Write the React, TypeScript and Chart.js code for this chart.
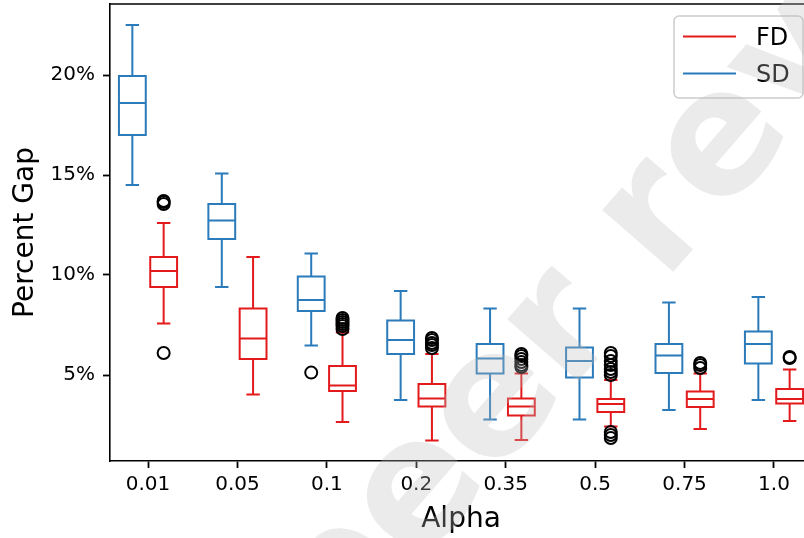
import React, { useEffect, useRef } from 'react';
import { Chart, registerables } from 'chart.js';

Chart.register(...registerables);

// Alpha values on the x axis
const categories = ['0.01', '0.05', '0.1', '0.2', '0.35', '0.5', '0.75', '1.0'];
const yTickValues = [5, 10, 15, 20];

// SD series (percent gap): whisker low, Q1, median, Q3, whisker high
const sdLow = [14.5, 9.4, 6.47, 3.75, 2.78, 2.77, 3.25, 3.75];
const sdQ1 = [17.0, 11.8, 8.2, 6.05, 5.07, 4.87, 5.1, 5.57];
const sdMedian = [18.6, 12.73, 8.75, 6.75, 5.82, 5.7, 5.98, 6.55];
const sdQ3 = [19.95, 13.55, 9.92, 7.72, 6.55, 6.38, 6.55, 7.17];
const sdHigh = [22.5, 15.07, 11.08, 9.2, 8.32, 8.33, 8.62, 8.9];
const sdOutliers: number[][] = [[], [], [5.12], [], [], [], [], []];

// FD series (percent gap)
const fdLow = [7.57, 4.03, 2.65, 1.73, 1.75, 2.42, 2.3, 2.7];
const fdQ1 = [9.4, 5.8, 4.2, 3.42, 2.97, 3.15, 3.4, 3.57];
const fdMedian = [10.2, 6.83, 4.47, 3.83, 3.42, 3.55, 3.8, 3.8];
const fdQ3 = [10.9, 8.33, 5.45, 4.55, 3.82, 3.8, 4.17, 4.3];
const fdHigh = [12.6, 10.9, 7.13, 6.05, 5.08, 4.75, 5.07, 5.28];
const fdOutliers: number[][] = [
  [13.55, 13.65, 13.7, 6.1],
  [],
  [7.3, 7.45, 7.55, 7.65, 7.75, 7.85],
  [6.35, 6.5, 6.6, 6.75, 6.85],
  [5.4, 5.5, 5.65, 5.8, 5.95, 6.05],
  [5.0, 5.15, 5.3, 5.5, 5.7, 5.95, 6.1, 2.15, 2.0, 1.85],
  [5.35, 5.5, 5.6],
  [5.85, 5.9],
];

const FD_COLOR = '#e31a1c';
const SD_COLOR = '#2b7bba';
const FONT = "'DejaVu Sans', sans-serif";

const SD_OFFSET = -0.175;
const FD_OFFSET = 0.175;
const BOX_HALF = 0.15;
const CAP_HALF = 0.075;

function outlierPoints(list: number[][], offset: number) {
  const pts: { x: number; y: number }[] = [];
  list.forEach((vals, i) => vals.forEach((v) => pts.push({ x: i + 1 + offset, y: v })));
  return pts;
}

export default function App() {
  const ref = useRef<HTMLCanvasElement>(null);

  useEffect(() => {
    const canvas = ref.current;
    if (!canvas) return;

    const boxPlugin = {
      id: 'boxes',
      beforeDatasetsDraw(chart: any) {
        const { ctx } = chart;
        const xs = chart.scales.x;
        const ys = chart.scales.y;
        const group = (
          offset: number,
          color: string,
          lo: number[],
          q1: number[],
          med: number[],
          q3: number[],
          hi: number[]
        ) => {
          ctx.save();
          ctx.strokeStyle = color;
          ctx.lineWidth = 2;
          ctx.lineCap = 'butt';
          for (let i = 0; i < categories.length; i++) {
            const c = i + 1 + offset;
            const cx = xs.getPixelForValue(c);
            const l = xs.getPixelForValue(c - BOX_HALF);
            const r = xs.getPixelForValue(c + BOX_HALF);
            const cl = xs.getPixelForValue(c - CAP_HALF);
            const cr = xs.getPixelForValue(c + CAP_HALF);
            const pLo = ys.getPixelForValue(lo[i]);
            const pQ1 = ys.getPixelForValue(q1[i]);
            const pMed = ys.getPixelForValue(med[i]);
            const pQ3 = ys.getPixelForValue(q3[i]);
            const pHi = ys.getPixelForValue(hi[i]);
            ctx.beginPath();
            ctx.rect(l, pQ3, r - l, pQ1 - pQ3);
            ctx.moveTo(l, pMed);
            ctx.lineTo(r, pMed);
            ctx.moveTo(cx, pQ1);
            ctx.lineTo(cx, pLo);
            ctx.moveTo(cx, pQ3);
            ctx.lineTo(cx, pHi);
            ctx.moveTo(cl, pLo);
            ctx.lineTo(cr, pLo);
            ctx.moveTo(cl, pHi);
            ctx.lineTo(cr, pHi);
            ctx.stroke();
          }
          ctx.restore();
        };
        group(SD_OFFSET, SD_COLOR, sdLow, sdQ1, sdMedian, sdQ3, sdHigh);
        group(FD_OFFSET, FD_COLOR, fdLow, fdQ1, fdMedian, fdQ3, fdHigh);
      },
    };

    const decorPlugin = {
      id: 'decor',
      afterDraw(chart: any) {
        const { ctx, chartArea } = chart;
        ctx.save();
        // top and right spines
        ctx.strokeStyle = '#000';
        ctx.lineWidth = 1.6;
        ctx.beginPath();
        ctx.moveTo(chartArea.left - 0.8, chartArea.top);
        ctx.lineTo(chartArea.right + 0.8, chartArea.top);
        ctx.lineTo(chartArea.right, chartArea.bottom);
        ctx.stroke();

        // axis titles
        ctx.fillStyle = '#000';
        ctx.font = `28px ${FONT}`;
        ctx.textAlign = 'center';
        ctx.textBaseline = 'alphabetic';
        ctx.fillText('Alpha', (chartArea.left + chartArea.right) / 2, 527);
        ctx.save();
        ctx.translate(33, (chartArea.top + chartArea.bottom) / 2);
        ctx.rotate(-Math.PI / 2);
        ctx.fillText('Percent Gap', 0, 0);
        ctx.restore();

        // legend
        const lx = 674, ly = 16, lw = 129, lh = 82, rad = 5;
        ctx.beginPath();
        ctx.moveTo(lx + rad, ly);
        ctx.arcTo(lx + lw, ly, lx + lw, ly + lh, rad);
        ctx.arcTo(lx + lw, ly + lh, lx, ly + lh, rad);
        ctx.arcTo(lx, ly + lh, lx, ly, rad);
        ctx.arcTo(lx, ly, lx + lw, ly, rad);
        ctx.closePath();
        ctx.fillStyle = 'rgba(255,255,255,0.8)';
        ctx.fill();
        ctx.strokeStyle = '#cccccc';
        ctx.lineWidth = 1.5;
        ctx.stroke();
        const entries = [
          { label: 'FD', color: FD_COLOR, y: 36.5, base: 45 },
          { label: 'SD', color: SD_COLOR, y: 73.5, base: 81.5 },
        ];
        ctx.font = `24px ${FONT}`;
        ctx.textAlign = 'left';
        entries.forEach((e) => {
          ctx.strokeStyle = e.color;
          ctx.lineWidth = 2;
          ctx.beginPath();
          ctx.moveTo(683, e.y);
          ctx.lineTo(736, e.y);
          ctx.stroke();
          ctx.fillStyle = '#000';
          ctx.fillText(e.label, 756, e.base);
        });

        // watermark
        ctx.save();
        ctx.translate(335, 661);
        ctx.rotate((-49 * Math.PI) / 180);
        ctx.font = `bold 172px ${FONT}`;
        ctx.textAlign = 'left';
        ctx.textBaseline = 'alphabetic';
        ctx.fillStyle = 'rgba(190,190,190,0.3)';
        ctx.fillText('peer review', 0, 0);
        ctx.restore();
        ctx.restore();
      },
    };

    const chart = new Chart(canvas, {
      type: 'scatter',
      data: {
        datasets: [
          {
            label: 'FD outliers',
            data: outlierPoints(fdOutliers, FD_OFFSET),
            pointStyle: 'circle',
            pointRadius: 6,
            pointHoverRadius: 6,
            borderColor: '#000',
            backgroundColor: 'rgba(0,0,0,0)',
            borderWidth: 2,
          },
          {
            label: 'SD outliers',
            data: outlierPoints(sdOutliers, SD_OFFSET),
            pointStyle: 'circle',
            pointRadius: 6,
            pointHoverRadius: 6,
            borderColor: '#000',
            backgroundColor: 'rgba(0,0,0,0)',
            borderWidth: 2,
          },
        ],
      },
      options: {
        responsive: false,
        animation: false,
        devicePixelRatio: 1,
        layout: { autoPadding: false, padding: { top: 4, right: 28, left: 0, bottom: 0 } },
        plugins: {
          legend: { display: false },
          tooltip: { enabled: false },
        },
        scales: {
          x: {
            type: 'linear',
            min: 0.575,
            max: 8.425,
            afterBuildTicks: (s: any) => {
              s.ticks = categories.map((_, i) => ({ value: i + 1 }));
            },
            afterFit: (s: any) => {
              s.height = 77;
              s.paddingLeft = 0;
              s.paddingRight = 0;
            },
            ticks: {
              callback: (v: any) => categories[Math.round(Number(v)) - 1],
              color: '#000',
              font: { family: FONT, size: 20, lineHeight: 1.2 },
              padding: 5,
              maxRotation: 0,
              autoSkip: false,
            },
            grid: {
              drawOnChartArea: false,
              tickLength: 7,
              tickColor: '#000',
              tickWidth: 1.8,
            },
            border: { color: '#000', width: 1.6 },
          },
          y: {
            type: 'linear',
            min: 0.7,
            max: 23.55,
            afterBuildTicks: (s: any) => {
              s.ticks = yTickValues.map((v) => ({ value: v }));
            },
            afterFit: (s: any) => {
              s.width = 110;
              s.paddingTop = 0;
              s.paddingBottom = 0;
            },
            ticks: {
              callback: (v: any) => `${v}%`,
              color: '#000',
              font: { family: FONT, size: 20 },
              padding: 8,
            },
            grid: {
              drawOnChartArea: false,
              tickLength: 7,
              tickColor: '#000',
              tickWidth: 1.8,
            },
            border: { color: '#000', width: 1.6 },
          },
        },
      },
      plugins: [boxPlugin, decorPlugin],
    } as any);

    return () => chart.destroy();
  }, []);

  return (
    <div
      style={{
        position: 'fixed',
        left: 0,
        top: 0,
        width: 804,
        height: 538,
        overflow: 'hidden',
        background: '#fff',
      }}
    >
      <canvas ref={ref} width={840} height={538} style={{ display: 'block', width: 840, height: 538 }} />
    </div>
  );
}
